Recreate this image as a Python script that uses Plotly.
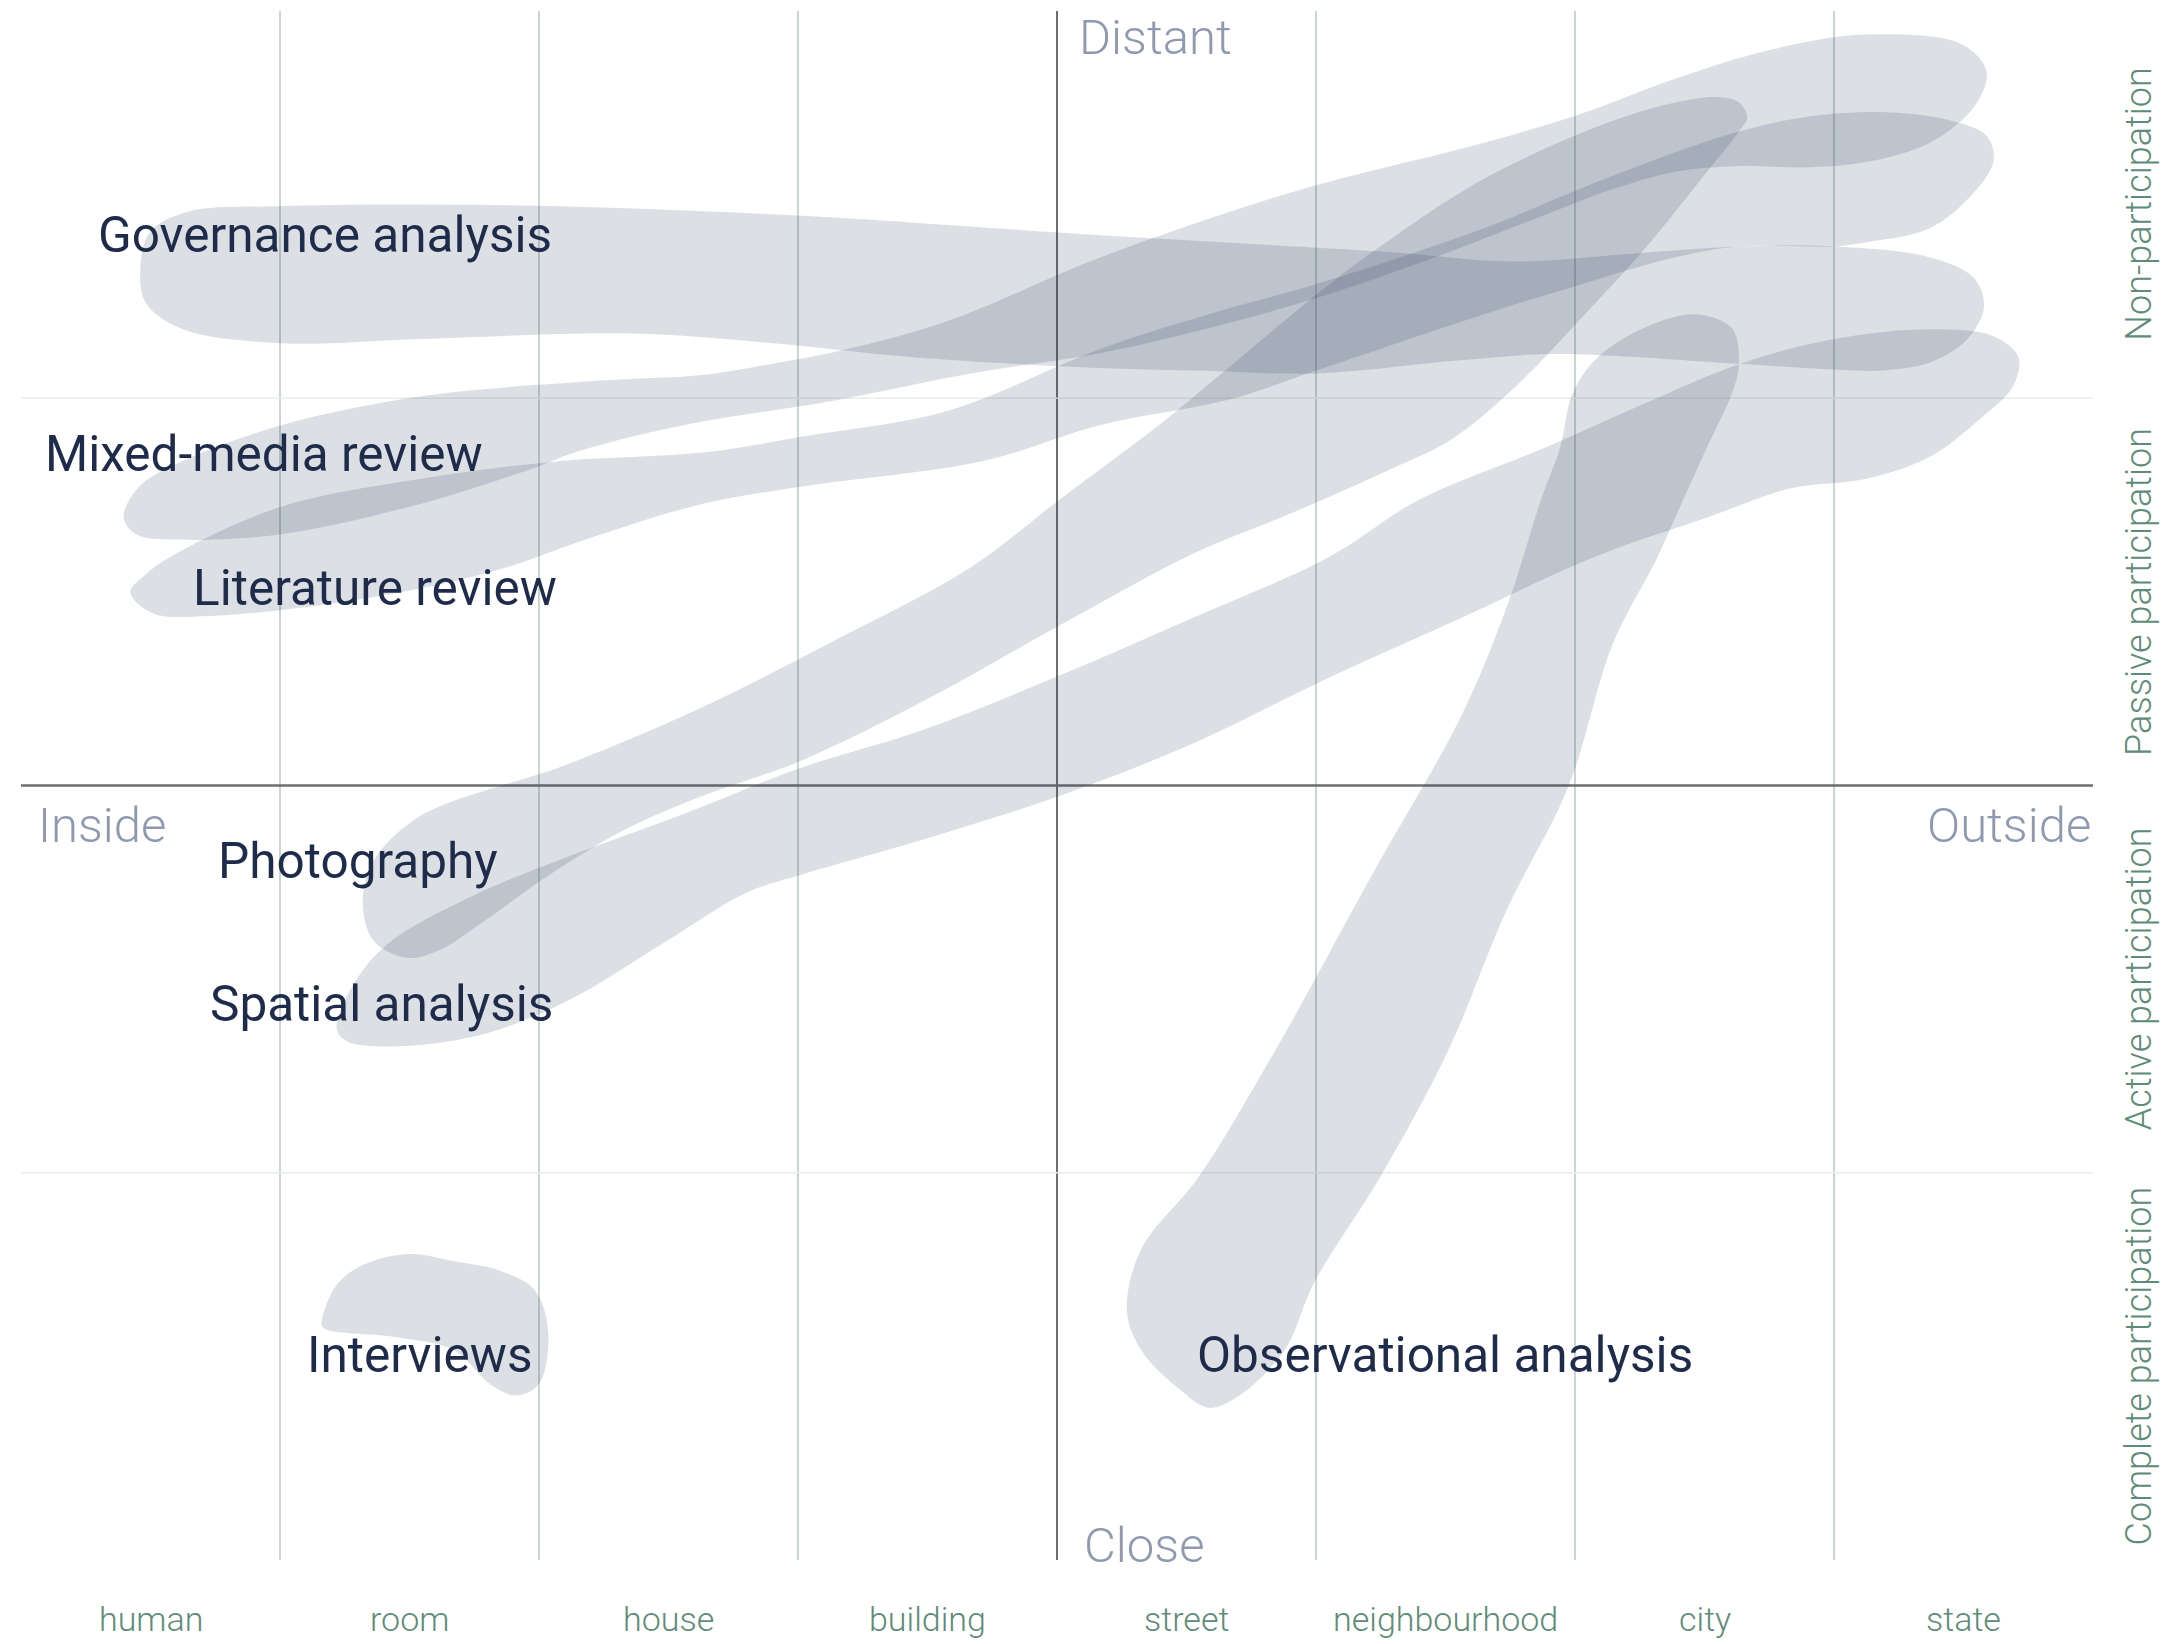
import plotly.graph_objects as go

# ---------------- data ----------------
categories = ["human", "room", "house", "building", "street", "neighbourhood", "city", "state"]
participation = ["Complete participation", "Active participation", "Passive participation", "Non-participation"]

method_names = ["Governance analysis", "Mixed-media review", "Literature review", "Photography",
                "Spatial analysis", "Interviews", "Observational analysis"]
label_x = [0.289, 0.086, 0.657, 0.754, 0.722, 1.096, 4.532]
label_y = [3.421, 2.856, 2.509, 1.805, 1.437, 0.529, 0.529]

governance_x = [0.989, 1.817, 2.902, 4.169, 5.265, 5.772, 6.227, 6.633, 7.002, 7.370, 7.541, 7.579, 7.515,
                7.370, 7.173, 7.002, 6.633, 6.136, 5.890, 5.521, 5.008, 4.570, 4.169, 3.442, 2.902, 2.357,
                1.545, 1.005, 0.625, 0.486, 0.460, 0.497, 0.641]
governance_y = [3.496, 3.499, 3.475, 3.421, 3.378, 3.353, 3.374, 3.392, 3.392, 3.364, 3.310, 3.235, 3.153,
                3.092, 3.071, 3.074, 3.089, 3.110, 3.114, 3.096, 3.064, 3.071, 3.078, 3.106, 3.142, 3.167,
                3.153, 3.142, 3.178, 3.242, 3.314, 3.428, 3.481]

mixed_x = [1.545, 2.223, 2.630, 2.902, 3.169, 3.576, 4.169, 4.906, 5.649, 6.013, 6.387, 6.756, 7.125, 7.493,
           7.589, 7.541, 7.370, 7.125, 6.879, 6.633, 6.387, 6.141, 5.890, 5.398, 5.008, 4.570, 4.169, 3.661,
           3.127, 2.592, 2.170, 1.951, 1.523, 1.005, 0.599, 0.444, 0.396, 0.454, 0.599, 1.005]
mixed_y = [3.005, 3.045, 3.060, 3.089, 3.124, 3.199, 3.364, 3.532, 3.660, 3.732, 3.825, 3.900, 3.939, 3.914,
           3.843, 3.753, 3.660, 3.610, 3.596, 3.600, 3.585, 3.539, 3.475, 3.349, 3.260, 3.178, 3.117, 3.063,
           2.992, 2.935, 2.867, 2.813, 2.724, 2.649, 2.635, 2.649, 2.692, 2.770, 2.830, 2.930]

literature_x = [1.545, 2.084, 2.630, 3.036, 3.576, 4.169, 4.570, 5.008, 5.649, 6.013, 6.387, 6.633, 6.879,
                7.173, 7.445, 7.589, 7.616, 7.541, 7.370, 7.125, 7.002, 6.633, 6.387, 6.013, 5.649, 5.029,
                4.661, 4.169, 3.715, 3.036, 2.630, 2.223, 1.817, 1.272, 0.732, 0.508, 0.422, 0.481, 0.599,
                1.005]
literature_y = [2.792, 2.838, 2.860, 2.903, 2.967, 3.128, 3.214, 3.296, 3.439, 3.539, 3.635, 3.689, 3.725,
                3.739, 3.718, 3.678, 3.614, 3.532, 3.439, 3.403, 3.392, 3.392, 3.364, 3.292, 3.217, 3.078,
                2.996, 2.931, 2.838, 2.774, 2.727, 2.645, 2.552, 2.477, 2.438, 2.445, 2.499, 2.545, 2.599,
                2.720]

photography_x = [2.630, 3.148, 3.666, 4.009, 4.415, 4.661, 5.008, 5.227, 5.649, 6.136, 6.387, 6.547, 6.633,
                 6.665, 6.633, 6.510, 6.264, 6.013, 5.772, 5.526, 5.275, 4.890, 4.527, 4.009, 3.490, 3.009,
                 2.630, 2.325, 2.058, 1.769, 1.619, 1.491, 1.363, 1.320, 1.352, 1.529, 2.111]
photography_y = [2.202, 2.377, 2.563, 2.738, 2.942, 3.078, 3.271, 3.382, 3.567, 3.714, 3.764, 3.778, 3.764,
                 3.725, 3.689, 3.585, 3.382, 3.199, 3.031, 2.895, 2.813, 2.699, 2.599, 2.413, 2.220, 2.063,
                 1.973, 1.884, 1.777, 1.641, 1.576, 1.555, 1.598, 1.687, 1.794, 1.916, 2.055]

spatial_x = [2.560, 3.009, 3.490, 4.009, 4.527, 5.045, 5.398, 5.890, 6.264, 6.633, 7.002, 7.370, 7.616, 7.712,
             7.691, 7.568, 7.370, 7.125, 6.831, 6.510, 6.082, 5.564, 5.045, 4.527, 4.009, 3.490, 3.009, 2.801,
             2.459, 2.111, 1.769, 1.422, 1.256, 1.219, 1.288, 1.422, 1.769, 2.111]
spatial_y = [1.927, 2.045, 2.145, 2.284, 2.434, 2.588, 2.738, 2.874, 2.985, 3.088, 3.153, 3.178, 3.160, 3.106,
             3.031, 2.949, 2.849, 2.792, 2.767, 2.692, 2.592, 2.434, 2.277, 2.109, 1.973, 1.862, 1.769, 1.723,
             1.584, 1.444, 1.355, 1.326, 1.340, 1.373, 1.491, 1.594, 1.723, 1.816]

interviews_x = [1.502, 1.668, 1.849, 1.983, 2.036, 1.999, 1.908, 1.812, 1.668, 1.443, 1.165, 1.165, 1.224, 1.331]
interviews_y = [0.790, 0.772, 0.747, 0.697, 0.586, 0.454, 0.425, 0.454, 0.543, 0.576, 0.601, 0.629, 0.715, 0.765]

observational_x = [5.216, 5.564, 5.735, 5.869, 5.943, 5.991, 6.088, 6.264, 6.462, 6.606, 6.633, 6.606, 6.510,
                   6.387, 6.312, 6.146, 5.975, 5.735, 5.510, 5.249, 4.992, 4.880, 4.698, 4.586, 4.474, 4.324,
                   4.270, 4.324, 4.548, 4.842]
observational_y = [1.769, 2.184, 2.459, 2.738, 2.874, 3.013, 3.106, 3.181, 3.217, 3.181, 3.088, 3.013, 2.874,
                   2.692, 2.581, 2.366, 1.998, 1.677, 1.315, 0.990, 0.715, 0.543, 0.422, 0.393, 0.440, 0.543,
                   0.643, 0.801, 0.990, 1.315]

# ---------------- style ----------------
FONT = "Roboto"
BLOB = "rgba(40,55,90,0.16)"
LABEL_COL = "#1e2b4a"
AXIS_TXT = "#8f9ab0"
GREEN = "#5e8c78"
GRID = "#b9c8c2"
GRID_FAINT = "#e9eeec"
CENTER = "#6e6e6e"

n_cols = len(categories)
n_rows = len(participation)

fig = go.Figure()

blobs = [
    ("Governance analysis", governance_x, governance_y),
    ("Mixed-media review", mixed_x, mixed_y),
    ("Literature review", literature_x, literature_y),
    ("Photography", photography_x, photography_y),
    ("Spatial analysis", spatial_x, spatial_y),
    ("Interviews", interviews_x, interviews_y),
    ("Observational analysis", observational_x, observational_y),
]
for name, xs, ys in blobs:
    fig.add_trace(go.Scatter(
        x=xs + [xs[0]], y=ys + [ys[0]], mode="lines", fill="toself", fillcolor=BLOB,
        line=dict(width=0, shape="spline", smoothing=1.0, color="rgba(0,0,0,0)"),
        hoverinfo="skip", showlegend=False, name=name))

shapes = []
mid_x = n_cols / 2
mid_y = n_rows / 2
for i in range(1, n_cols):
    center = (i == mid_x)
    shapes.append(dict(type="line", xref="x", yref="y", x0=i, x1=i,
                       y0=(-0.047 if i == n_cols - 1 else 0), y1=n_rows, layer="below",
                       line=dict(color=CENTER if center else GRID, width=2 if center else 1.5)))
for j in range(1, n_rows):
    center = (j == mid_y)
    shapes.append(dict(type="line", xref="x", yref="y", x0=0, x1=n_cols, y0=j, y1=j, layer="below",
                       line=dict(color=CENTER if center else GRID_FAINT, width=2.5 if center else 1.5)))

annotations = []
for name, lx, ly in zip(method_names, label_x, label_y):
    annotations.append(dict(x=lx, y=ly, xref="x", yref="y", text=name, showarrow=False,
                            xanchor="left", yanchor="middle",
                            font=dict(family=FONT, size=49.5, color=LABEL_COL)))

for i, c in enumerate(categories):
    annotations.append(dict(x=i + 0.5, y=0, xref="x", yref="paper", yshift=-59, text=c, showarrow=False,
                            xanchor="center", yanchor="middle",
                            font=dict(family=FONT, size=34, color=GREEN, weight=300)))

for j, p in enumerate(participation):
    annotations.append(dict(x=1, y=j + 0.5, xref="paper", yref="y", xshift=46, text=p, showarrow=False,
                            textangle=-90, xanchor="center", yanchor="middle",
                            font=dict(family=FONT, size=36, color=GREEN, weight=300)))

axis_font = dict(family=FONT, size=49, color=AXIS_TXT, weight=300)
annotations += [
    dict(x=mid_x, y=n_rows, xref="x", yref="y", xshift=20, yshift=-26, text="Distant", showarrow=False,
         xanchor="left", yanchor="middle", font=axis_font),
    dict(x=mid_x, y=0, xref="x", yref="y", xshift=25, yshift=15, text="Close", showarrow=False,
         xanchor="left", yanchor="middle", font=axis_font),
    dict(x=0, y=mid_y, xref="x", yref="y", xshift=15, yshift=-40, text="Inside", showarrow=False,
         xanchor="left", yanchor="middle", font=axis_font),
    dict(x=n_cols, y=mid_y, xref="x", yref="y", xshift=0, yshift=-40, text="Outside", showarrow=False,
         xanchor="right", yanchor="middle", font=axis_font),
]

fig.update_layout(
    width=2170, height=1644,
    margin=dict(l=13, r=85, t=3, b=92),
    paper_bgcolor="white", plot_bgcolor="white",
    xaxis=dict(range=[0, n_cols], visible=False, fixedrange=True),
    yaxis=dict(range=[0, n_rows], visible=False, fixedrange=True),
    shapes=shapes, annotations=annotations, showlegend=False,
    font=dict(family=FONT),
)

fig.write_html("out.html")
